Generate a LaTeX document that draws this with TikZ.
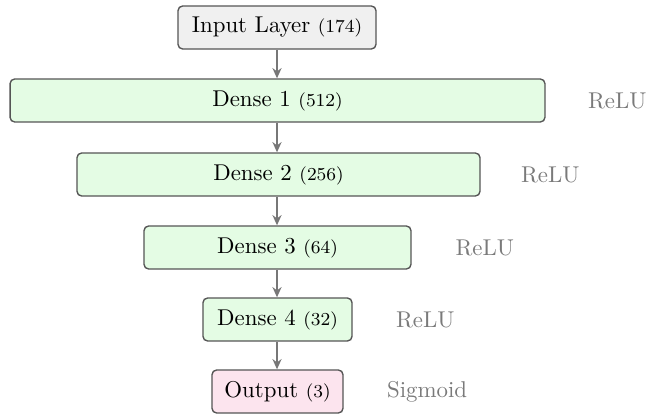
\documentclass[tikz,border=0pt]{standalone}
\usetikzlibrary{positioning,arrows.meta}
\definecolor{boxdraw}{HTML}{555555}
\definecolor{arrowc}{HTML}{777777}
\definecolor{inputfill}{HTML}{F0F0F0}
\definecolor{densefill}{HTML}{E4FCE4}
\definecolor{outfill}{HTML}{FCE4EE}
\definecolor{actc}{HTML}{7A7A7A}
\tikzset{
  layer/.style={draw=boxdraw, line width=0.6pt, rounded corners=2pt, minimum height=18.8pt, inner sep=2pt, font=\normalsize},
  act/.style={text=actc, anchor=west, inner sep=0pt},
  conn/.style={draw=arrowc, line width=0.6pt, -{Stealth[length=4.5pt,width=4pt]}}
}
\begin{document}
\begin{tikzpicture}[x=0.4375pt,y=-0.4375pt]
\useasboundingbox (0,0) rectangle (647,415);
\node[layer, fill=inputfill, minimum width=86.6pt] (in) at (277,27.5) {Input Layer {\footnotesize (174)}};
\node[layer, fill=densefill, minimum width=234pt] (d1) at (277.5,100.5) {Dense 1 {\footnotesize (512)}};
\node[layer, fill=densefill, minimum width=176.3pt] (d2) at (278.5,174.5) {Dense 2 {\footnotesize (256)}};
\node[layer, fill=densefill, minimum width=116.8pt] (d3) at (277.5,247.5) {Dense 3 {\footnotesize (64)}};
\node[layer, fill=densefill, minimum width=65.2pt] (d4) at (277.5,319.5) {Dense 4 {\footnotesize (32)}};
\node[layer, fill=outfill, minimum width=57.3pt] (out) at (277.5,391.5) {Output {\footnotesize (3)}};
\node[act, right=18.4pt of d1.east] (a1) {ReLU};
\node[act, right=17.5pt of d2.east] (a2) {ReLU};
\node[act, right=19pt of d3.east] (a3) {ReLU};
\node[act, right=18.8pt of d4.east] (a4) {ReLU};
\node[act, right=18.8pt of out.east] (a5) {Sigmoid};
\draw[conn] (in.south) -- (in.south |- d1.north);
\draw[conn] (d1.south -| in.south) -- (in.south |- d2.north);
\draw[conn] (d2.south -| in.south) -- (in.south |- d3.north);
\draw[conn] (d3.south -| in.south) -- (in.south |- d4.north);
\draw[conn] (d4.south -| in.south) -- (in.south |- out.north);
\end{tikzpicture}
\end{document}
